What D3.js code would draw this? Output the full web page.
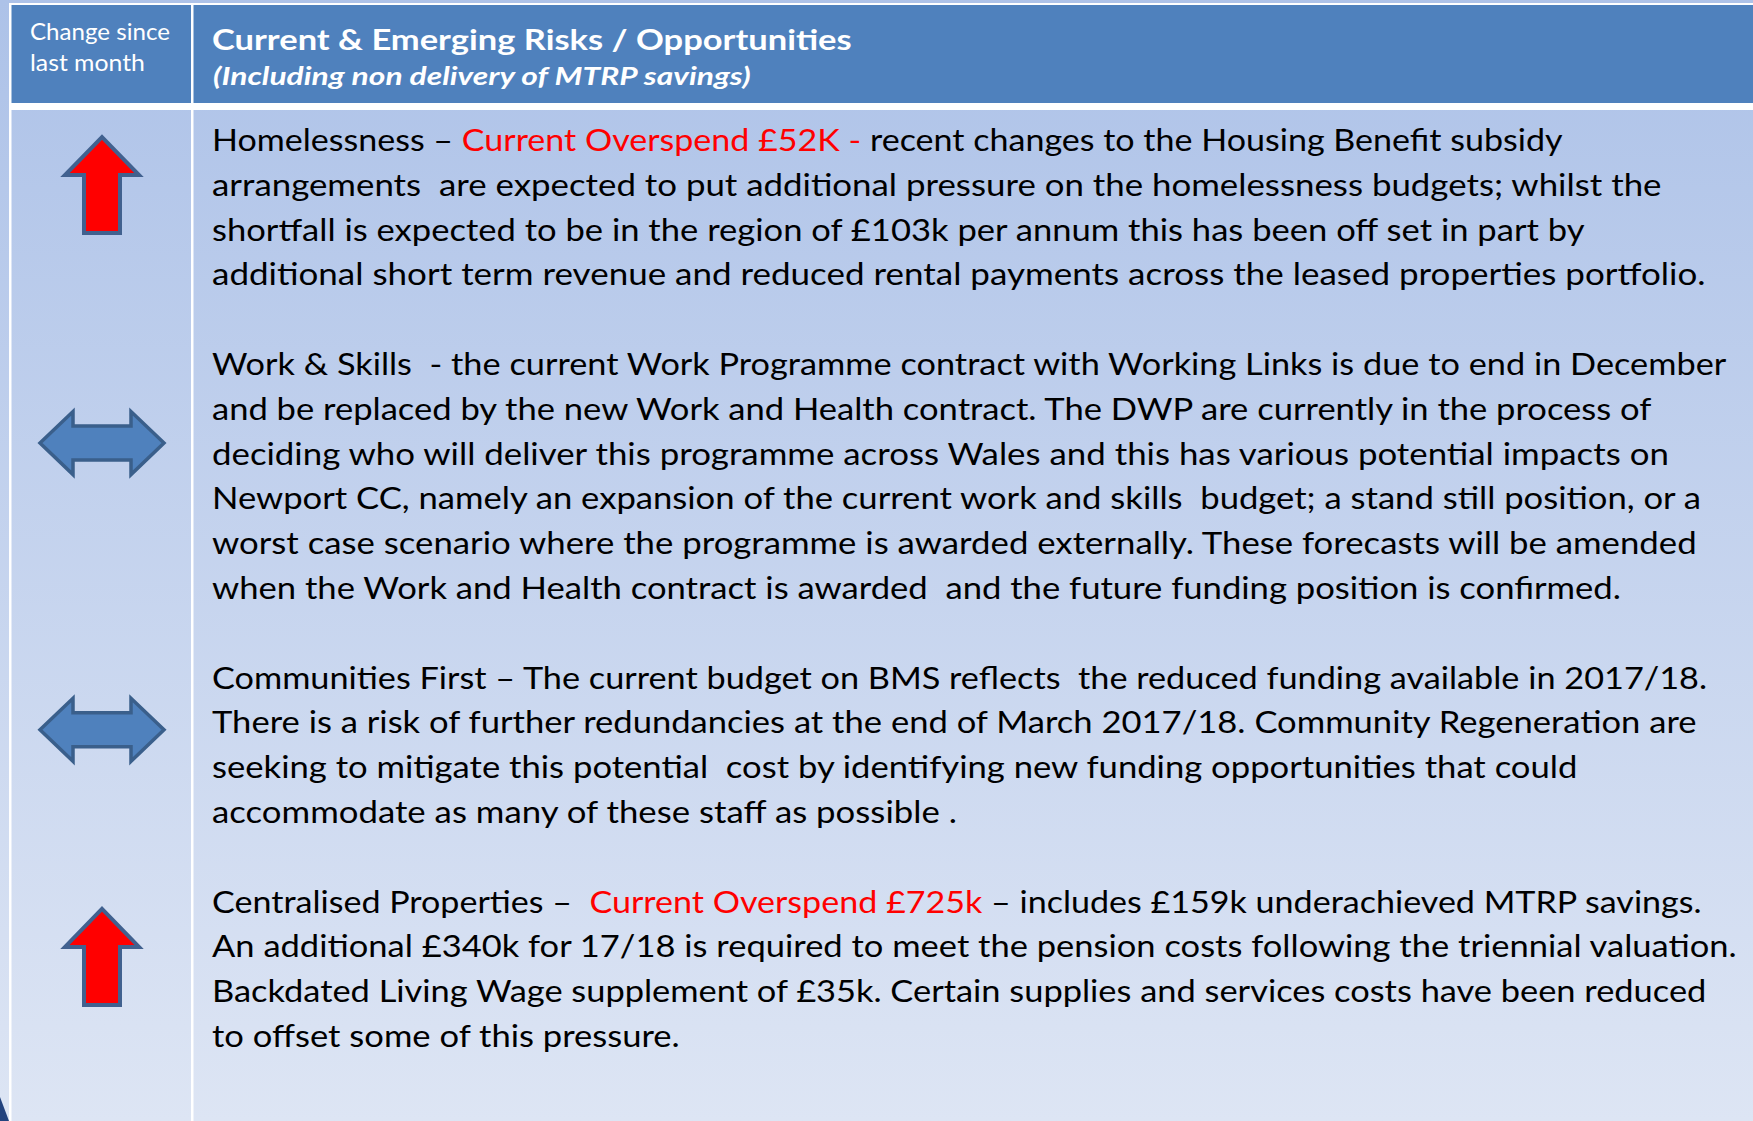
<!DOCTYPE html>
<html>
<head>
<meta charset="utf-8">
<script src="https://cdn.jsdelivr.net/npm/d3@7"></script>
<style>
  body { margin: 0; background: #fff; }
  text { white-space: pre; }
</style>
</head>
<body>
<svg width="1753" height="1121"></svg>
<script>
const svg = d3.select("svg"),
      width = +svg.attr("width"),
      height = +svg.attr("height");

// header texts
const headLeft = ["Change since", "last month"];
const headTitle = "Current & Emerging Risks / Opportunities";
const headSub = "(Including non delivery of MTRP savings)";

// change since last month, one per item
const changeArrows = ["up", "both", "both", "up"];

// item text, line by line; segments flagged true are shown in red
const itemLines = [
  [
    [["Homelessness – "], ["Current Overspend £52K - ", true], ["recent changes to the Housing Benefit subsidy"]],
    [["arrangements  are expected to put additional pressure on the homelessness budgets; whilst the"]],
    [["shortfall is expected to be in the region of £103k per annum this has been off set in part by"]],
    [["additional short term revenue and reduced rental payments across the leased properties portfolio."]]
  ],
  [
    [["Work & Skills  - the current Work Programme contract with Working Links is due to end in December"]],
    [["and be replaced by the new Work and Health contract. The DWP are currently in the process of"]],
    [["deciding who will deliver this programme across Wales and this has various potential impacts on"]],
    [["Newport CC, namely an expansion of the current work and skills  budget; a stand still position, or a"]],
    [["worst case scenario where the programme is awarded externally. These forecasts will be amended"]],
    [["when the Work and Health contract is awarded  and the future funding position is confirmed."]]
  ],
  [
    [["Communities First – The current budget on BMS reflects  the reduced funding available in 2017/18."]],
    [["There is a risk of further redundancies at the end of March 2017/18. Community Regeneration are"]],
    [["seeking to mitigate this potential  cost by identifying new funding opportunities that could"]],
    [["accommodate as many of these staff as possible ."]]
  ],
  [
    [["Centralised Properties –  "], ["Current Overspend £725k", true], [" – includes £159k underachieved MTRP savings."]],
    [["An additional £340k for 17/18 is required to meet the pension costs following the triennial valuation."]],
    [["Backdated Living Wage supplement of £35k. Certain supplies and services costs have been reduced"]],
    [["to offset some of this pressure."]]
  ]
];

// layout
const tableX = 9, tableY = 3, border = 2.5;
const col1 = 191, headBottom = 103, bodyTop = 110;
const textX = 212, bodyFont = 30;
const arrowX = 102;
const arrowAt = [0.76, 6.52, 12.92, 17.99];   // arrow centre, in line units
// right end of each printed line (the original wraps in a narrower font)
const lineRight = [1563, 1662, 1585, 1706,
                   1727, 1652, 1669, 1702, 1697, 1622,
                   1708, 1697, 1578, 957,
                   1702, 1737, 1707, 680];

// one line per row, blank line between items
const flat = [];
itemLines.forEach(function(item, i) {
  item.forEach(function(segs) { flat.push(segs); });
  if (i < itemLines.length - 1) flat.push(null);
});

const y = d3.scaleLinear().domain([0, flat.length - 1]).range([151, 1047]);

const defs = svg.append("defs");
const grad = defs.append("linearGradient")
    .attr("id", "bg")
    .attr("gradientUnits", "userSpaceOnUse")
    .attr("x1", 0).attr("y1", 0).attr("x2", 0).attr("y2", height);
grad.append("stop").attr("offset", 0).attr("stop-color", "#adc2e8");
grad.append("stop").attr("offset", 1).attr("stop-color", "#dde5f4");

svg.append("rect").attr("width", width).attr("height", height).attr("fill", "url(#bg)");

// table frame and cells
svg.append("rect")
    .attr("x", tableX).attr("y", tableY)
    .attr("width", width - tableX).attr("height", height - tableY)
    .attr("fill", "#fff");

const cells = [
  {x: tableX + border, y: tableY + 2, x2: col1, y2: headBottom, fill: "#4f81bd"},
  {x: col1 + border, y: tableY + 2, x2: width, y2: headBottom, fill: "#4f81bd"},
  {x: tableX + border, y: bodyTop, x2: col1, y2: height, fill: "url(#bg)"},
  {x: col1 + border, y: bodyTop, x2: width, y2: height, fill: "url(#bg)"}
];
svg.append("g").selectAll("rect")
    .data(cells)
    .enter().append("rect")
    .attr("x", function(d) { return d.x; })
    .attr("y", function(d) { return d.y; })
    .attr("width", function(d) { return d.x2 - d.x; })
    .attr("height", function(d) { return d.y2 - d.y; })
    .attr("fill", function(d) { return d.fill; });

// small corner shape bottom left
svg.append("path")
    .attr("d", "M0,1097L9,1121L0,1121Z")
    .attr("fill", "#23437e");

// squeeze a text to a width
function fit(t, x0, y0, w) {
  const k = w / t.node().getComputedTextLength();
  t.attr("transform", "translate(" + x0 + "," + y0 + ") scale(" + k + ",1)");
  return k;
}

// header
const hl = svg.append("g").attr("fill", "#fff").attr("font-family", "Lato");
headLeft.forEach(function(s, i) {
  const t = hl.append("text").attr("font-size", 23.5).text(s);
  fit(t, 30, [39.5, 71][i], [140, 115][i]);
});
const tt = hl.append("text").attr("font-size", 28.5).attr("font-weight", "bold").text(headTitle);
fit(tt, textX, 50, 640);
const st = hl.append("text").attr("font-size", 25).attr("font-weight", "bold")
    .attr("font-style", "italic").text(headSub);
fit(st, textX + 1, 85, 538);

// body text
const body = svg.append("g").attr("font-family", "Lato").attr("font-size", bodyFont);
const rows = body.selectAll("text")
    .data(flat.map(function(segs, i) { return {segs: segs, i: i}; }).filter(function(d) { return d.segs; }))
    .enter().append("text");
rows.selectAll("tspan")
    .data(function(d) { return d.segs; })
    .enter().append("tspan")
    .attr("fill", function(d) { return d[1] ? "#ff0000" : "#000"; })
    .text(function(d) { return d[0]; });

rows.each(function(d, j) {
  fit(d3.select(this), textX, y(d.i), lineRight[j] - textX);
});

// arrows
function upArrow(cx, cy) {
  const p = d3.path(), top = cy - 48, bot = cy + 48, hw = 37, sw = 18, hh = 38;
  p.moveTo(cx, top);
  p.lineTo(cx + hw, top + hh);
  p.lineTo(cx + sw, top + hh);
  p.lineTo(cx + sw, bot);
  p.lineTo(cx - sw, bot);
  p.lineTo(cx - sw, top + hh);
  p.lineTo(cx - hw, top + hh);
  p.closePath();
  return p.toString();
}
function bothArrow(cx, cy) {
  const p = d3.path(), hw = 62, hh = 31.5, sh = 17, hl2 = 33;
  p.moveTo(cx - hw, cy);
  p.lineTo(cx - hw + hl2, cy - hh);
  p.lineTo(cx - hw + hl2, cy - sh);
  p.lineTo(cx + hw - hl2, cy - sh);
  p.lineTo(cx + hw - hl2, cy - hh);
  p.lineTo(cx + hw, cy);
  p.lineTo(cx + hw - hl2, cy + hh);
  p.lineTo(cx + hw - hl2, cy + sh);
  p.lineTo(cx - hw + hl2, cy + sh);
  p.lineTo(cx - hw + hl2, cy + hh);
  p.closePath();
  return p.toString();
}

svg.append("g").selectAll("path")
    .data(changeArrows)
    .enter().append("path")
    .attr("d", function(d, i) { return d === "up" ? upArrow(arrowX, y(arrowAt[i])) : bothArrow(arrowX, y(arrowAt[i])); })
    .attr("fill", function(d) { return d === "up" ? "#ff0000" : "#4f81bd"; })
    .attr("stroke", function(d) { return d === "up" ? "#41618f" : "#3a5f8b"; })
    .attr("stroke-width", function(d) { return d === "up" ? 4 : 3.5; })
    .attr("stroke-linejoin", "miter");
</script>
</body>
</html>
